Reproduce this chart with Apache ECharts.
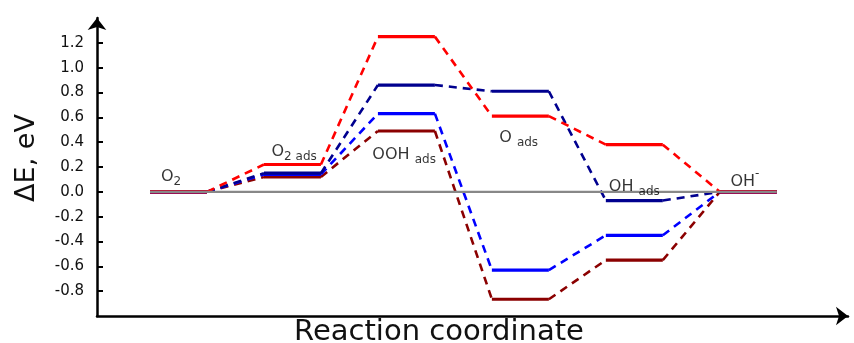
<!DOCTYPE html>
<html><head><meta charset="utf-8">
<script src="https://cdn.jsdelivr.net/npm/echarts@6/dist/echarts.min.js"></script>
<style>html,body{margin:0;padding:0;background:#fff}#c{width:854px;height:343px}</style>
</head><body><div id="c"></div>
<script>
// ---- data ----
const states = ['O2', 'O2 ads', 'OOH ads', 'O ads', 'OH ads', 'OH-'];
const redE     = [0, 0.22, 1.25, 0.61, 0.38, 0];
const navyE    = [0, 0.15, 0.86, 0.81, -0.07, 0];
const blueE    = [0, 0.14, 0.63, -0.63, -0.35, 0];
const darkRedE = [0, 0.12, 0.49, -0.865, -0.55, 0];
const yTickValues = [-0.8, -0.6, -0.4, -0.2, 0.0, 0.2, 0.4, 0.6, 0.8, 1.0, 1.2];
// annotation anchors (in axis units) for the state labels
const labelAnchorX = [0.37, 2.53, 4.46, 6.47, 8.5, 10.44];
const labelAnchorY = [0.14, 0.34, 0.31, 0.45, 0.06, 0.10];

// ---- build ----
const BREAK = ['-', '-'];
function solidData(vals) {
  const d = [];
  vals.forEach((v, i) => { d.push([2 * i, v], [2 * i + 1, v], BREAK); });
  return d;
}
function dashData(vals) {
  const d = [];
  for (let i = 0; i < vals.length - 1; i++) {
    d.push([2 * i + 1, vals[i]], [2 * i + 2, vals[i + 1]], BREAK);
  }
  return d;
}
const seriesDefs = [
  { vals: darkRedE, color: '#8b0000' },
  { vals: blueE, color: '#0000ff' },
  { vals: navyE, color: '#00008f' },
  { vals: redE, color: '#ff0000' }
];
const series = [];
seriesDefs.forEach((s, k) => {
  series.push({
    type: 'line', data: dashData(s.vals), showSymbol: false, symbol: 'none',
    connectNulls: false, silent: true, z: 2 + k,
    lineStyle: { color: s.color, width: 2.6, type: [8, 6] }
  });
  series.push({
    type: 'line', data: solidData(s.vals), showSymbol: false, symbol: 'none',
    connectNulls: false, silent: true, z: 2 + k,
    lineStyle: { color: s.color, width: 3.2 }
  });
});
// gray reference line at 0
series.push({
  type: 'line', data: [[0, 0], [2 * (states.length - 1) + 1, 0]], symbol: 'none',
  silent: true, z: 20, lineStyle: { color: '#888888', width: 2.2 }
});
// state labels
const labelRich = {
  m: { fontSize: 16, fontFamily: 'DejaVu Sans', color: '#000', lineHeight: 20, verticalAlign: 'bottom' },
  s: { fontSize: 12, fontFamily: 'DejaVu Sans', color: '#000', lineHeight: 20, verticalAlign: 'bottom', padding: [0, 0, -3, 0] },
  p: { fontSize: 12, fontFamily: 'DejaVu Sans', color: '#000', lineHeight: 20, verticalAlign: 'top', padding: [-2, 0, 0, 0] }
};
function fmtLabel(name) {
  if (name === 'O2') return '{m|O}{s|2}';
  if (name === 'O2 ads') return '{m|O}{s|2 ads}';
  if (name === 'OOH ads') return '{m|OOH }{s|ads}';
  if (name === 'O ads') return '{m|O }{s|ads}';
  if (name === 'OH ads') return '{m|OH }{s|ads}';
  if (name === 'OH-') return '{m|OH}{p|-}';
  return name;
}
series.push({
  type: 'scatter', symbolSize: 0, silent: true, z: 30,
  data: states.map((n, i) => ({ value: [labelAnchorX[i], labelAnchorY[i]], name: n })),
  label: {
    show: true, position: 'inside', color: '#000',
    formatter: p => fmtLabel(p.name), rich: labelRich
  }
});

const chart = echarts.init(document.getElementById('c'), null, { renderer: 'canvas' });
chart.setOption({
  animation: false,
  backgroundColor: '#ffffff',
  grid: { left: 97, right: 6, top: 18, bottom: 27, containLabel: false },
  xAxis: {
    type: 'value', min: -0.93, max: 12.25,
    axisLine: { show: true, onZero: false, symbol: ['none', 'arrow'], symbolSize: [14, 12],
      lineStyle: { color: '#000', width: 2.5 } },
    axisTick: { show: false }, axisLabel: { show: false }, splitLine: { show: false }
  },
  yAxis: {
    type: 'value', min: -1.0, max: 1.4,
    axisLine: { show: true, onZero: false, symbol: ['none', 'arrow'], symbolSize: [14, 12],
      lineStyle: { color: '#000', width: 2.5 } },
    axisTick: { show: true, inside: true, length: 6, customValues: yTickValues,
      lineStyle: { color: '#000', width: 2 } },
    axisLabel: { show: true, customValues: yTickValues, margin: 13,
      formatter: v => v.toFixed(1), fontFamily: 'DejaVu Sans', fontSize: 15, color: '#111' },
    splitLine: { show: false }
  },
  graphic: [
    { type: 'text', x: 27, y: 158, rotation: Math.PI / 2, silent: true,
      style: { text: 'ΔE, eV', font: '27px "DejaVu Sans"', fill: '#111', align: 'center', verticalAlign: 'middle' } },
    { type: 'text', x: 439, y: 332, silent: true,
      style: { text: 'Reaction coordinate', font: '29px "DejaVu Sans"', fill: '#111', align: 'center', verticalAlign: 'middle' } }
  ],
  series: series
});
</script>
</body></html>
